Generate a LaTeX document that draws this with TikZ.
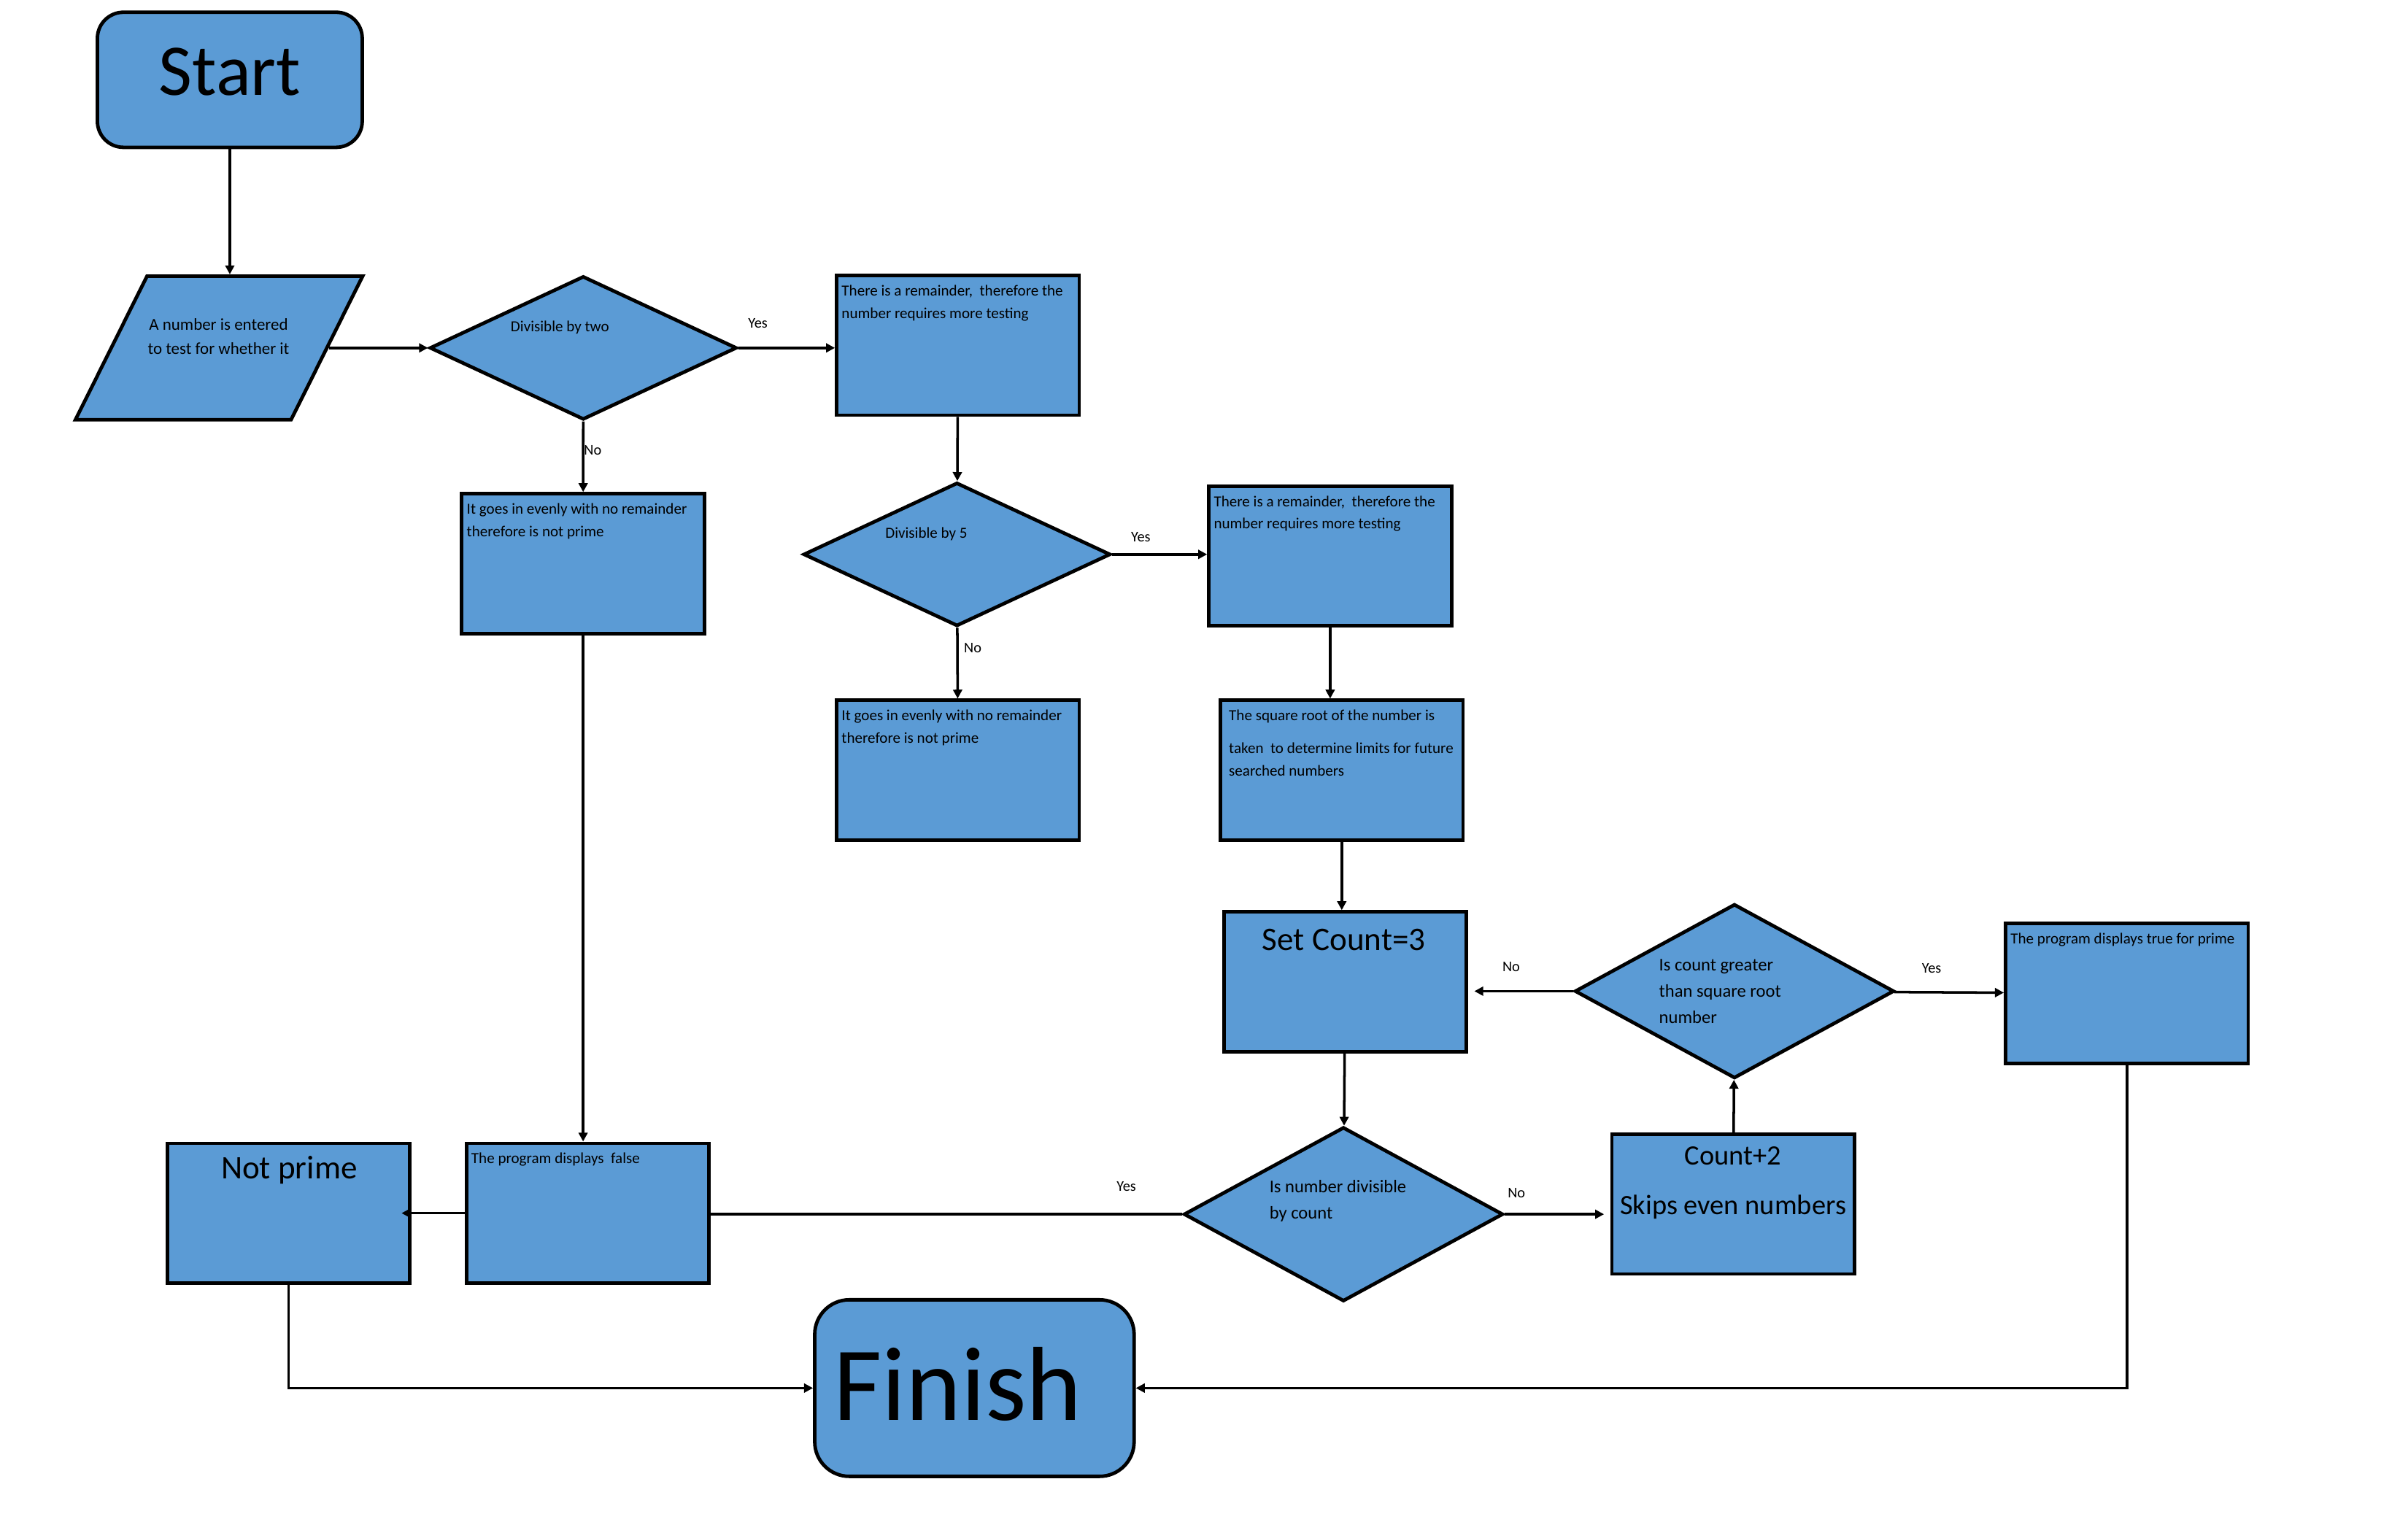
\documentclass[tikz,border=0pt]{standalone}
\usepackage{fontspec}
\setmainfont{Carlito}
\usetikzlibrary{arrows.meta,shapes.geometric,positioning}
\definecolor{boxblue}{HTML}{5B9BD5}
\tikzset{
    terminal/.style={
    rectangle,rounded corners=0.34cm,draw=black,fill=boxblue,line width=1.3pt,inner sep=0pt
    },
    process/.style={
    rectangle,draw=black,fill=boxblue,line width=1.3pt,minimum width=3.16cm,minimum height=1.82cm,inner sep=0pt
    },
    decision/.style={
    diamond,draw=black,fill=boxblue,line width=1.3pt,inner sep=0pt
    },
    inout/.style={
    trapezium,trapezium left angle=63.6,trapezium right angle=116.4,trapezium stretches=true,
    draw=black,fill=boxblue,line width=1.3pt,inner sep=1pt,minimum width=3.74cm,minimum height=1.87cm
    },
    boxtext/.style={
    anchor=north west,align=left,inner xsep=2.3pt,inner ysep=4pt,font=\fontsize{5.7pt}{8.3pt}\selectfont
    },
    smalltext/.style={
    inner sep=0pt,font=\fontsize{5.7pt}{8.3pt}\selectfont
    },
    asktext/.style={
    anchor=west,align=left,inner sep=0pt,font=\fontsize{6.65pt}{9.8pt}\selectfont
    },
    bigtext/.style={
    inner sep=0pt,font=\fontsize{12.2pt}{14pt}\selectfont
    },
    choice/.style={
    inner sep=0pt,font=\fontsize{5.5pt}{6pt}\selectfont
    },
    flow/.style={
    line width=0.95pt,-{Triangle[length=3.3pt,width=3.3pt]}
    },
}
\begin{document}
\begin{tikzpicture}[x=0.02cm,y=-0.02cm]
  \useasboundingbox (0,0) rectangle (1568,998);
  % shapes
  \node[terminal,minimum width=3.45cm,minimum height=1.76cm] (start) at (149.65,51.95) {};
  \node[inout] (input) at (142.65,226.55) {};
  \node[decision,minimum width=4cm,minimum height=1.87cm] (two) at (379.8,226.55) {};
  \node[process] (rem1) at (623.8,224.9) {};
  \node[process] (np1) at (379.7,367.05) {};
  \node[decision,minimum width=4cm,minimum height=1.87cm] (five) at (623.15,361) {};
  \node[process] (rem2) at (866.15,362.05) {};
  \node[process] (np2) at (623.8,501.55) {};
  \node[process] (sqrt) at (873.7,501.55) {};
  \node[process] (setc) at (875.9,639.3) {};
  \node[decision,minimum width=4.16cm,minimum height=2.27cm] (greater) at (1129.4,645.45) {};
  \node[process] (truep) at (1384.95,646.85) {};
  \node[decision,minimum width=4.16cm,minimum height=2.27cm] (divc) at (874.8,790.7) {};
  \node[process] (count2) at (1128.6,784.15) {};
  \node[process] (falsep) at (382.65,790) {};
  \node[process] (notp) at (187.85,790) {};
  \node[terminal,rounded corners=0.45cm,minimum width=4.16cm,minimum height=2.3cm] (finish) at (634.5,903.9) {};

  % texts
  \node[inner sep=0pt,font=\fontsize{27pt}{30pt}\selectfont] (start-t) at (149.7,47) {Start};
  \node[inner sep=0pt,align=center,font=\fontsize{6.2pt}{8.9pt}\selectfont] (input-t) at (142.3,219.2) {A number is entered\\to test for whether it};
  \node[smalltext] (two-t) at (364.6,213.2) {Divisible by two};
  \node[boxtext] (rem1-t) at (rem1.north west) {There is a remainder,~ therefore the\\number requires more testing};
  \node[boxtext] (np1-t) at (np1.north west) {It goes in evenly with no remainder\\therefore is not prime};
  \node[smalltext] (five-t) at (603.2,347.6) {Divisible by 5};
  \node[boxtext] (rem2-t) at (rem2.north west) {There is a remainder,~ therefore the\\number requires more testing};
  \node[boxtext] (np2-t) at (np2.north west) {It goes in evenly with no remainder\\therefore is not prime};
  \node[boxtext,inner xsep=3.6pt] (sqrt-t) at (sqrt.north west) {The square root of the number is\\[3.8pt]taken~ to determine limits for future\\searched numbers};
  \node[bigtext] (setc-t) at (875.1,611.9) {Set Count=3};
  \node[asktext] (greater-t) at (1080,645.5) {Is count greater\\than square root\\number};
  \node[boxtext] (truep-t) at (truep.north west) {The program displays true for prime};
  \node[asktext] (divc-t) at (826.3,782) {Is number divisible\\by count};
  \node[inner sep=0pt,align=center,font=\fontsize{10.4pt}{18.3pt}\selectfont] (count2-t) at (1128.5,770.4) {Count+2\\Skips even numbers};
  \node[boxtext] (falsep-t) at (falsep.north west) {The program displays~ false};
  \node[bigtext] (notp-t) at (188.3,761.8) {Not prime};
  \node[inner sep=0pt,font=\fontsize{39pt}{42pt}\selectfont] (finish-t) at (623.6,901.3) {Finish};

  % connectors
  \path[flow]
    (start.south) edge (start.south |- input.north)
    (input) edge (two)
    (two) edge node[choice,pos=0.2,yshift=0.32cm] (yes1) {Yes} (two.east -| rem1.west)
    (two) edge node[choice,pos=0.41,xshift=0.125cm] (no1) {No} (np1)
    (rem1) edge (five)
    (five) edge node[choice,pos=0.3,yshift=0.226cm] (yes2) {Yes} (five.east -| rem2.west)
    (five) edge node[choice,pos=0.29,xshift=0.2cm] (no2) {No} (np2)
    (np1.south) edge (np1.south |- falsep.north)
    (rem2.south) edge (rem2.south |- sqrt.north)
    (sqrt.south) edge (sqrt.south |- setc.north)
    (setc) edge (divc)
    (greater) edge[shorten >=0.08cm] node[choice,pos=0.59,yshift=0.316cm] (no3) {No} (greater.west -| setc.east)
    (greater) edge node[choice,pos=0.34,yshift=0.316cm] (yes3) {Yes} (truep)
    (divc) edge[shorten >=0.08cm] node[choice,pos=0.11,yshift=0.272cm] (no4) {No} (divc.east -| count2.west)
    (count2) edge (greater)
    (falsep) edge[shorten >=-0.13cm] (notp);
  \path[line width=0.95pt]
    (divc) edge node[choice,pos=0.118,yshift=0.36cm] (yes4) {Yes} (divc.west -| falsep.east);
  \draw[flow] (notp.south) |- (finish.west);
  \draw[flow] (truep.south) |- (finish.east);
\end{tikzpicture}
\end{document}
